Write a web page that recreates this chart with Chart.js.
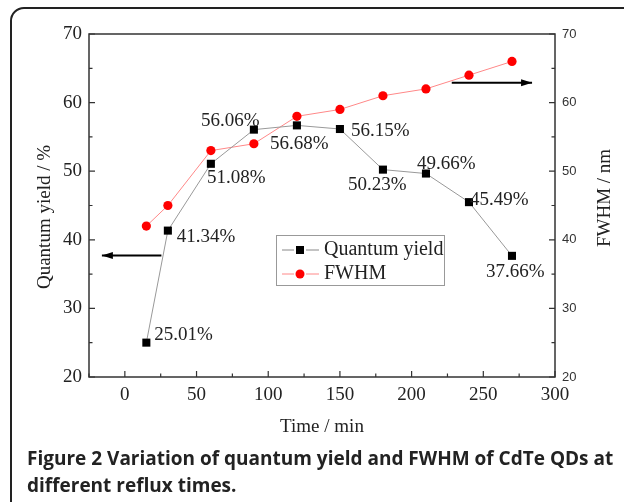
<!DOCTYPE html>
<html>
<head>
<meta charset="utf-8">
<script src="https://cdn.jsdelivr.net/npm/chart.js@4.4.0/dist/chart.umd.min.js"></script>
<style>
  html, body { margin: 0; padding: 0; background: #fff; }
  #wrap { position: relative; width: 624px; height: 502px; overflow: hidden; }
  #frame { position: absolute; left: 10px; top: 7px; width: 700px; height: 600px;
           border: 2px solid #222; border-top-left-radius: 14px; box-sizing: border-box; }
  #chart { position: absolute; left: 0; top: 0; }
  #caption { position: absolute; left: 27px; top: 445px; width: 600px;
             font-family: "Open Sans", sans-serif; font-weight: bold; font-size: 19px;
             line-height: 26.5px; color: #222; white-space: nowrap; }
</style>
</head>
<body>
<div id="wrap">
  <div id="frame"></div>
  <canvas id="chart" width="624" height="502"></canvas>
  <div id="caption">Figure 2 Variation of quantum yield and FWHM of CdTe QDs at<br>different reflux times.</div>
</div>
<script>
// reflux time (min)
const times = [15, 30, 60, 90, 120, 150, 180, 210, 240, 270];
// quantum yield (%)
const quantumYield = [25.01, 41.34, 51.08, 56.06, 56.68, 56.15, 50.23, 49.66, 45.49, 37.66];
// FWHM (nm)
const fwhm = [42, 45, 53, 54, 58, 59, 61, 62, 64, 66];

const xTicks = [0, 50, 100, 150, 200, 250, 300];
const yTicks = [20, 30, 40, 50, 60, 70];

// where each percentage label sits relative to its point (px)
const labelOffsets = [[8, -8], [9, 6], [-4, 14], [-53, -9], [-27, 19], [11, 2], [-35, 15], [-9, -10], [1, -2], [-26, 16]];

const serif = '"Liberation Serif", "Times New Roman", serif';

function fixedTicks(values) {
  return (scale) => { scale.ticks = values.map(v => ({value: v})); };
}

function arrow(c, x1, y1, x2, y2) {
  c.beginPath();
  c.moveTo(x1, y1);
  c.lineTo(x2, y2);
  c.stroke();
  const dir = Math.sign(x2 - x1);
  c.beginPath();
  c.moveTo(x2, y2);
  c.lineTo(x2 - dir * 11, y2 - 3.5);
  c.lineTo(x2 - dir * 11, y2 + 3.5);
  c.closePath();
  c.fill();
}

const decorations = {
  id: 'decorations',
  afterDraw(chart) {
    const c = chart.ctx;
    const a = chart.chartArea;
    const x = chart.scales.x, y = chart.scales.y, y1 = chart.scales.y1;
    c.save();

    // plot box
    c.strokeStyle = '#333';
    c.lineWidth = 1.5;
    c.strokeRect(a.left, a.top, a.right - a.left, a.bottom - a.top);

    // inward ticks
    c.lineWidth = 1.2;
    c.beginPath();
    for (let v = -25; v <= 300; v += 25) {
      const px = x.getPixelForValue(v);
      const len = v % 50 === 0 ? 6 : 3.5;
      c.moveTo(px, a.bottom); c.lineTo(px, a.bottom - len);
    }
    for (let v = 20; v <= 70; v += 5) {
      const py = y.getPixelForValue(v);
      const len = v % 10 === 0 ? 6 : 3.5;
      c.moveTo(a.left, py); c.lineTo(a.left + len, py);
      c.moveTo(a.right, py); c.lineTo(a.right - len, py);
    }
    c.stroke();

    // axis titles
    c.fillStyle = '#222';
    c.font = '19px ' + serif;
    c.textAlign = 'center';
    c.textBaseline = 'middle';
    c.fillText('Time / min', (a.left + a.right) / 2, 427);
    c.save();
    c.translate(45, 217);
    c.rotate(-Math.PI / 2);
    c.fillText('Quantum yield / %', 0, 0);
    c.restore();
    c.save();
    c.translate(605, 198);
    c.rotate(-Math.PI / 2);
    c.fillText('FWHM / nm', 0, 0);
    c.restore();

    // percentage labels
    c.textAlign = 'left';
    times.forEach((t, i) => {
      const px = x.getPixelForValue(t) + labelOffsets[i][0];
      const py = y.getPixelForValue(quantumYield[i]) + labelOffsets[i][1];
      c.fillText(quantumYield[i].toFixed(2) + '%', px, py);
    });

    // arrows pointing at each series' axis
    c.strokeStyle = '#000';
    c.fillStyle = '#000';
    c.lineWidth = 2;
    arrow(c, x.getPixelForValue(25.5), y.getPixelForValue(37.7), x.getPixelForValue(-16), y.getPixelForValue(37.7));
    arrow(c, x.getPixelForValue(228), y1.getPixelForValue(62.9), x.getPixelForValue(284), y1.getPixelForValue(62.9));

    // legend
    c.strokeStyle = '#999';
    c.lineWidth = 1;
    c.strokeRect(276.5, 235.5, 168, 50);
    c.font = '20px ' + serif;
    const entries = [
      {text: 'Quantum yield', line: '#888', mark: 'rect', color: '#000', yy: 250},
      {text: 'FWHM', line: '#f88', mark: 'circle', color: '#f00', yy: 274}
    ];
    entries.forEach(e => {
      c.strokeStyle = e.line;
      c.beginPath();
      c.moveTo(282, e.yy); c.lineTo(294, e.yy);
      c.moveTo(306, e.yy); c.lineTo(319, e.yy);
      c.stroke();
      c.fillStyle = e.color;
      if (e.mark === 'rect') {
        c.fillRect(296, e.yy - 4, 8, 8);
      } else {
        c.beginPath(); c.arc(300, e.yy, 4.5, 0, Math.PI * 2); c.fill();
      }
      c.fillStyle = '#222';
      c.fillText(e.text, 324, e.yy);
    });

    c.restore();
  }
};

new Chart(document.getElementById('chart'), {
  type: 'scatter',
  data: {
    datasets: [
      {
        label: 'Quantum yield',
        data: times.map((t, i) => ({x: t, y: quantumYield[i]})),
        showLine: true,
        borderColor: '#999',
        borderWidth: 1,
        backgroundColor: '#000',
        pointBackgroundColor: '#000',
        pointBorderWidth: 0,
        pointStyle: 'rect',
        pointRadius: 5.7,
        yAxisID: 'y'
      },
      {
        label: 'FWHM',
        data: times.map((t, i) => ({x: t, y: fwhm[i]})),
        showLine: true,
        borderColor: '#f88',
        borderWidth: 1,
        backgroundColor: '#f00',
        pointBackgroundColor: '#f00',
        pointBorderWidth: 0,
        pointStyle: 'circle',
        pointRadius: 4.6,
        yAxisID: 'y1'
      }
    ]
  },
  options: {
    responsive: false,
    animation: false,
    layout: {padding: {top: 34, left: 0, right: 0, bottom: 0}},
    plugins: {legend: {display: false}, tooltip: {enabled: false}},
    scales: {
      x: {
        type: 'linear', min: -25, max: 300,
        afterBuildTicks: fixedTicks(xTicks),
        afterFit: s => { s.height = 125; },
        grid: {display: false, drawTicks: false},
        border: {display: false},
        ticks: {padding: 7, color: '#222', font: {family: serif, size: 19}}
      },
      y: {
        type: 'linear', position: 'left', min: 20, max: 70,
        afterBuildTicks: fixedTicks(yTicks),
        afterFit: s => { s.width = 89; },
        grid: {display: false, drawTicks: false},
        border: {display: false},
        ticks: {padding: 7, color: '#222', font: {family: serif, size: 19}}
      },
      y1: {
        type: 'linear', position: 'right', min: 20, max: 70,
        afterBuildTicks: fixedTicks(yTicks),
        afterFit: s => { s.width = 69; },
        grid: {display: false, drawTicks: false},
        border: {display: false},
        ticks: {padding: 7, color: '#333', font: {family: '"Liberation Sans", Arial, sans-serif', size: 13}}
      }
    }
  },
  plugins: [decorations]
});
</script>
</body>
</html>
